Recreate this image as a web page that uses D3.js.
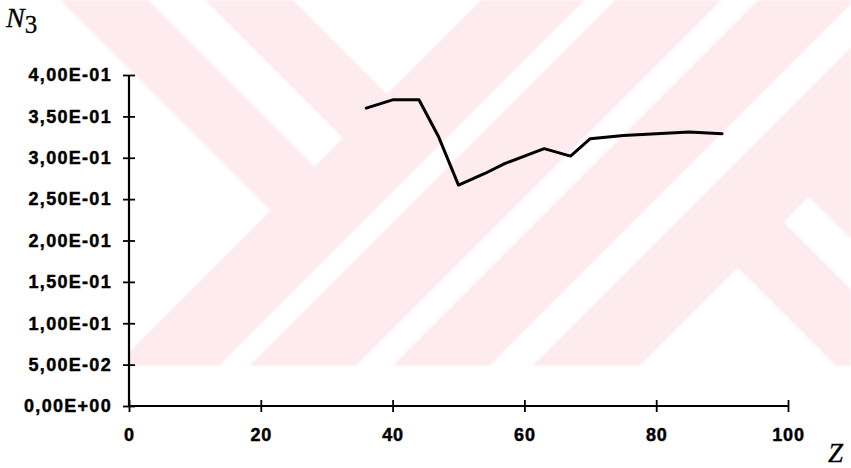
<!DOCTYPE html>
<html>
<head>
<meta charset="utf-8">
<script src="https://cdn.jsdelivr.net/npm/d3@7/dist/d3.min.js"></script>
<style>
  html, body { margin: 0; padding: 0; background: #ffffff; }
  svg { display: block; }
</style>
</head>
<body>
<svg id="chart" width="851" height="468"></svg>
<script>
// Series: N3 as a function of Z
const zValues  = [36, 40, 44, 47, 50, 54, 57, 63, 67, 70, 75, 80, 85, 90];
const n3Values = [0.360, 0.370, 0.370, 0.325, 0.267, 0.281, 0.293, 0.311, 0.302, 0.323, 0.327, 0.329, 0.331, 0.329];

// Axis ticks
const xTickValues = [0, 20, 40, 60, 80, 100];
const yTickValues = [0, 0.05, 0.10, 0.15, 0.20, 0.25, 0.30, 0.35, 0.40];

const svg = d3.select("#chart");
const W = 851, H = 468;

const x = d3.scaleLinear().domain([0, 100]).range([129, 788]);
const y = d3.scaleLinear().domain([0, 0.4]).range([406, 75]);

// Excel-style scientific labels: 3,50E-01
function sci(v) {
  if (v === 0) return "0,00E+00";
  const s = v.toExponential(2);
  const [m, e] = s.split("e");
  const ev = parseInt(e, 10);
  const es = (ev < 0 ? "-" : "+") + String(Math.abs(ev)).padStart(2, "0");
  return m.replace(".", ",") + "E" + es;
}

// ---- Background emblem (light pink diagonal bands) ----
const defs = svg.append("defs");
defs.append("filter").attr("id", "soft")
  .append("feGaussianBlur").attr("stdDeviation", 0.9);
defs.append("clipPath").attr("id", "wmClip")
  .append("polygon")
  .attr("points", "0,0 851,0 851,366 128,366 128,300 0,300");

const wm = svg.append("g")
  .attr("clip-path", "url(#wmClip)")
  .append("g")
  .attr("filter", "url(#soft)");

const pink = "#fdebef";
wm.append("rect").attr("x", 0).attr("y", 0).attr("width", W).attr("height", 366).attr("fill", pink);

// white gaps between the bands
const gaps = [
  // upper-left group ("\" direction, above the x+y=481 edge)
  [[0,0],[60,0],[270.5,210.5],[0,481]],
  [[148,0],[205,0],[343,138],[314.5,166.5]],
  [[293,0],[481,0],[387,94]],
  // middle group ("/" direction stripes)
  [[585,0],[615,0],[215,400],[185,400]],
  [[722,0],[758,0],[358,400],[322,400]],
  [[855,0],[898,0],[498,400],[455,400]],
  // lower-right group (beyond the x+y=1006 edge)
  [[738,268],[606,400],[870,400]],
  [[784,222],[809,197],[1012,400],[962,400]]
];
wm.selectAll("polygon.gap").data(gaps).join("polygon")
  .attr("class", "gap")
  .attr("points", d => d.map(p => p.join(",")).join(" "))
  .attr("fill", "#ffffff");

// ---- Axes ----
const labelFont = "'Liberation Sans', Arial, Helvetica, sans-serif";

function styleLabels(sel, spacing) {
  sel.attr("font-family", labelFont).attr("font-weight", "bold")
    .attr("font-size", 18).attr("letter-spacing", spacing)
    .attr("fill", "#000").attr("stroke", "#000").attr("stroke-width", 0.45);
}

const yAxis = svg.append("g")
  .attr("transform", `translate(${x(0)},0)`)
  .call(d3.axisLeft(y).tickValues(yTickValues).tickFormat(sci).tickSize(6).tickPadding(11));
yAxis.select(".domain").attr("stroke", "#000").attr("stroke-width", 2.2)
  .attr("d", `M0,${y(0)}V${y(0.4)}`);
yAxis.selectAll(".tick line").attr("stroke", "#000").attr("stroke-width", 1.8);
yAxis.selectAll(".tick").append("line")
  .attr("x1", 0).attr("x2", 6).attr("stroke", "#000").attr("stroke-width", 1.8);
styleLabels(yAxis.selectAll(".tick text"), 1.3);

const xAxis = svg.append("g")
  .attr("transform", `translate(0,${y(0)})`)
  .call(d3.axisBottom(x).tickValues(xTickValues).tickFormat(d3.format("d")).tickSize(6).tickPadding(16));
xAxis.select(".domain").attr("stroke", "#000").attr("stroke-width", 2.2)
  .attr("d", `M${x(0)},0H${x(100)}`);
xAxis.selectAll(".tick line").attr("stroke", "#000").attr("stroke-width", 1.8);
xAxis.selectAll(".tick").append("line")
  .attr("y1", 0).attr("y2", -6).attr("stroke", "#000").attr("stroke-width", 1.8);
styleLabels(xAxis.selectAll(".tick text"), 0.8);

// ---- Data line ----
const line = d3.line().x((d, i) => x(zValues[i])).y(d => y(d));
svg.append("path")
  .datum(n3Values)
  .attr("d", line)
  .attr("fill", "none")
  .attr("stroke", "#000")
  .attr("stroke-width", 3)
  .attr("stroke-linejoin", "round")
  .attr("stroke-linecap", "round");

// ---- Axis titles ----
const serif = "'Liberation Serif', 'Times New Roman', serif";
const yTitle = svg.append("text")
  .attr("x", 6).attr("y", 27)
  .attr("font-family", serif).attr("font-size", 28).attr("fill", "#000")
  .attr("stroke", "#000").attr("stroke-width", 0.3);
yTitle.append("tspan").attr("font-style", "italic").text("N");
yTitle.append("tspan").attr("dy", 6).attr("font-size", 25).text("3");

svg.append("text")
  .attr("x", 828).attr("y", 462)
  .attr("font-family", serif).attr("font-style", "italic")
  .attr("font-size", 27).attr("fill", "#000")
  .attr("stroke", "#000").attr("stroke-width", 0.3)
  .text("Z");
</script>
</body>
</html>
